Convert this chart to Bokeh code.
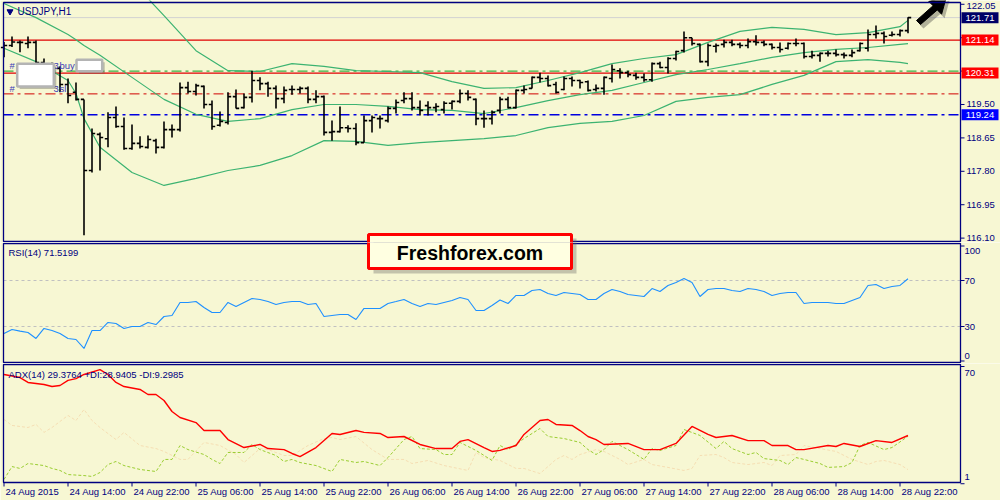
from bokeh.plotting import figure
from bokeh.layouts import column
from bokeh.models import Range1d, Label, BoxAnnotation, ColumnDataSource
from bokeh.embed import file_html
from bokeh.resources import INLINE

# ---------------- data ----------------
time_labels = ["24 Aug 2015", "24 Aug 14:00", "24 Aug 22:00", "25 Aug 06:00", "25 Aug 14:00",
               "25 Aug 22:00", "26 Aug 06:00", "26 Aug 14:00", "26 Aug 22:00", "27 Aug 06:00",
               "27 Aug 14:00", "27 Aug 22:00", "28 Aug 06:00", "28 Aug 14:00", "28 Aug 22:00"]
label_step = 8

opens = [120.95, 121.00, 121.08, 121.05, 121.08, 120.57, 120.47, 120.42, 120.01, 119.81,
         119.63, 117.82, 118.74, 118.63, 119.17, 118.94, 118.38, 118.51, 118.41, 118.58,
         118.41, 118.86, 118.86, 119.93, 119.83, 119.96, 119.50, 118.97, 119.04, 119.70,
         119.42, 119.68, 120.11, 120.03, 119.91, 119.65, 119.88, 119.88, 119.91, 119.63,
         119.70, 118.79, 118.81, 118.91, 118.89, 118.53, 119.09, 119.14, 119.09, 119.40,
         119.60, 119.65, 119.42, 119.47, 119.42, 119.37, 119.53, 119.58, 119.78, 119.63,
         119.14, 119.14, 119.35, 119.63, 119.42, 119.86, 119.91, 120.19, 120.16, 120.01,
         119.88, 120.16, 120.11, 120.08, 119.88, 119.91, 120.16, 120.36, 120.31, 120.24,
         120.19, 120.13, 120.54, 120.44, 120.67, 120.87, 121.20, 121.03, 120.59, 120.98,
         121.03, 121.08, 121.03, 121.00, 121.10, 121.08, 121.03, 120.95, 120.93, 121.05,
         121.05, 120.72, 120.75, 120.80, 120.80, 120.77, 120.75, 120.87, 120.93, 121.28,
         121.31, 121.26, 121.28, 121.38]
highs = [121.09, 121.23, 121.13, 121.23, 121.13, 120.67, 120.57, 120.47, 120.16, 120.06,
         119.63, 118.89, 118.79, 119.30, 119.45, 119.17, 118.99, 118.69, 118.71, 118.63,
         119.07, 118.99, 120.06, 120.08, 120.03, 119.98, 119.60, 119.32, 119.81, 119.88,
         119.78, 120.36, 120.19, 120.08, 119.98, 119.96, 119.98, 119.96, 119.96, 119.86,
         119.73, 119.09, 119.45, 118.97, 119.02, 119.22, 119.22, 119.22, 119.45, 119.63,
         119.81, 119.81, 119.60, 119.58, 119.53, 119.58, 119.60, 119.88, 119.86, 119.65,
         119.35, 119.35, 119.70, 119.70, 119.88, 119.98, 120.21, 120.31, 120.24, 120.08,
         120.21, 120.21, 120.13, 120.11, 120.01, 120.21, 120.52, 120.42, 120.36, 120.31,
         120.29, 120.57, 120.59, 120.70, 120.87, 121.36, 121.20, 121.05, 121.05, 121.05,
         121.15, 121.15, 121.08, 121.18, 121.26, 121.13, 121.05, 121.08, 121.08, 121.18,
         121.08, 120.87, 120.82, 120.87, 120.90, 120.82, 120.90, 121.08, 121.41, 121.51,
         121.36, 121.36, 121.41, 121.72]
lows = [120.70, 120.96, 120.83, 120.93, 120.49, 120.31, 120.11, 119.81, 119.53, 119.60,
        116.17, 117.77, 117.82, 118.41, 118.91, 118.35, 118.35, 118.38, 118.38, 118.25,
        118.38, 118.66, 118.81, 119.78, 119.73, 119.40, 118.86, 118.94, 118.99, 119.40,
        119.40, 119.55, 119.86, 119.70, 119.40, 119.53, 119.75, 119.78, 119.53, 119.53,
        118.71, 118.58, 118.79, 118.79, 118.46, 118.53, 118.79, 118.89, 119.04, 119.27,
        119.53, 119.35, 119.22, 119.22, 119.30, 119.27, 119.37, 119.53, 119.60, 118.97,
        118.91, 118.99, 119.27, 119.40, 119.40, 119.78, 119.91, 120.06, 119.96, 119.78,
        119.86, 119.96, 119.91, 119.83, 119.83, 119.75, 120.06, 120.16, 120.19, 120.13,
        120.08, 120.08, 120.42, 120.29, 120.62, 120.82, 121.00, 120.57, 120.47, 120.82,
        120.95, 120.98, 120.93, 120.93, 121.00, 120.98, 120.90, 120.82, 120.90, 120.98,
        120.67, 120.67, 120.59, 120.72, 120.72, 120.67, 120.70, 120.85, 120.85, 121.18,
        121.05, 121.23, 121.23, 121.31]
closes = [121.00, 121.09, 121.08, 121.08, 120.57, 120.47, 120.42, 120.01, 119.73, 119.63,
          117.82, 118.76, 118.66, 119.17, 118.94, 118.38, 118.51, 118.43, 118.61, 118.41,
          118.86, 118.86, 119.93, 119.83, 119.98, 119.50, 118.94, 119.07, 119.70, 119.40,
          119.68, 120.11, 120.03, 119.91, 119.65, 119.86, 119.88, 119.91, 119.63, 119.70,
          118.79, 118.81, 118.91, 118.89, 118.53, 119.09, 119.17, 119.14, 119.40, 119.55,
          119.65, 119.42, 119.35, 119.42, 119.45, 119.53, 119.58, 119.78, 119.68, 119.14,
          119.14, 119.30, 119.63, 119.42, 119.86, 119.88, 120.19, 120.16, 119.98, 119.81,
          120.16, 120.11, 120.06, 119.86, 119.91, 120.19, 120.39, 120.31, 120.26, 120.19,
          120.13, 120.54, 120.44, 120.67, 120.85, 121.20, 121.05, 120.59, 121.00, 121.00,
          121.08, 121.03, 121.00, 121.10, 121.08, 121.03, 120.95, 120.90, 121.05, 121.05,
          120.72, 120.75, 120.80, 120.80, 120.77, 120.75, 120.82, 121.05, 121.28, 121.31,
          121.23, 121.28, 121.38, 121.71]

bb_idx = [0, 4, 8, 9, 10, 12, 16, 20, 24, 28, 32, 36, 40, 44, 48, 52, 56, 60, 64, 68,
          72, 76, 80, 84, 88, 92, 96, 100, 104, 108, 112, 113]
bb_upper = [123.22, 122.83, 122.45, 122.45, 122.86, 123.04, 122.63, 121.76, 120.87, 120.36,
            120.34, 120.54, 120.47, 120.36, 120.34, 120.31, 120.08, 119.91, 119.93, 120.11,
            120.31, 120.54, 120.67, 120.77, 121.08, 121.36, 121.46, 121.41, 121.28, 121.33,
            121.48, 121.64]
bb_mid = [122.07, 121.71, 121.28, 121.15, 121.00, 120.75, 120.19, 119.63, 119.25, 119.07,
          119.14, 119.37, 119.50, 119.50, 119.45, 119.37, 119.35, 119.27, 119.42, 119.60,
          119.75, 119.86, 120.06, 120.26, 120.39, 120.54, 120.70, 120.82, 120.90, 120.95,
          121.03, 121.05]
bb_lower = [120.93, 120.59, 120.11, 119.78, 119.14, 118.41, 117.77, 117.44, 117.62, 117.82,
            117.95, 118.20, 118.58, 118.56, 118.46, 118.53, 118.58, 118.63, 118.71, 118.91,
            119.02, 119.07, 119.22, 119.58, 119.68, 119.75, 120.01, 120.24, 120.59, 120.64,
            120.57, 120.54]

rsi = [23.9, 27.4, 26.0, 24.8, 19.6, 28.3, 26.5, 23.9, 19.6, 18.7,
       10.9, 26.5, 26.5, 33.5, 32.6, 28.3, 30.0, 30.0, 33.5, 31.7,
       38.7, 39.6, 50.9, 50.9, 51.7, 46.5, 42.2, 42.2, 50.9, 47.4,
       50.9, 54.3, 53.5, 51.7, 49.1, 50.9, 51.7, 51.7, 49.1, 50.0,
       38.7, 39.6, 40.4, 40.4, 36.1, 45.7, 45.7, 45.7, 50.0, 51.7,
       53.5, 50.0, 47.4, 50.0, 49.1, 50.9, 52.6, 55.2, 53.5, 43.9,
       43.9, 48.3, 53.0, 50.0, 57.0, 57.0, 61.3, 62.2, 58.7, 57.0,
       59.6, 58.7, 57.8, 53.5, 53.5, 58.7, 62.2, 60.4, 57.8, 57.0,
       56.1, 63.0, 60.4, 65.7, 68.3, 71.7, 68.3, 56.1, 62.2, 63.0,
       63.0, 61.3, 60.4, 63.0, 62.2, 60.4, 57.0, 58.7, 59.6, 59.6,
       50.0, 50.9, 50.9, 50.9, 50.0, 50.0, 52.6, 55.2, 65.7, 66.5,
       63.0, 64.8, 65.7, 71.52]
rsi_levels = [30, 70]
rsi_ticks = [0, 30, 70, 100]

adx_idx = [0, 2, 3, 5, 6, 7, 8, 9, 10, 12, 13, 14, 15, 17, 18, 19, 20, 21, 22, 24,
           25, 27, 28, 30, 32, 33, 35, 36, 37, 39, 41, 42, 44, 45, 47, 48, 50, 52, 54, 56,
           57, 58, 60, 61, 62, 64, 65, 67, 68, 69, 71, 72, 73, 74, 75, 78, 80, 82, 84, 86,
           88, 89, 91, 93, 95, 96, 98, 99, 100, 103, 104, 105, 107, 109, 111, 113]
adx = [65.3, 63.5, 60.6, 59.4, 58.2, 58.8, 61.8, 62.9, 65.3, 68.2,
       65.3, 60.6, 58.2, 56.5, 53.5, 53.5, 50.0, 43.5, 40.0, 37.0,
       32.3, 32.3, 27.0, 22.3, 24.1, 21.7, 21.1, 18.8, 17.0, 22.3,
       30.6, 30.0, 32.3, 31.2, 30.6, 28.2, 28.8, 24.1, 21.7, 21.7,
       25.9, 27.0, 22.3, 20.0, 20.6, 23.5, 30.0, 38.2, 38.8, 35.9,
       35.3, 32.3, 28.8, 27.0, 24.1, 24.7, 21.1, 21.1, 24.7, 34.7,
       30.0, 28.2, 29.4, 26.4, 26.4, 23.5, 23.5, 21.1, 21.1, 23.5,
       22.9, 24.7, 22.9, 26.4, 25.3, 29.38]

pdi_idx = [0, 1, 2, 3, 5, 6, 7, 8, 10, 11, 12, 13, 14, 15, 17, 19, 20, 21, 22, 23,
           25, 26, 27, 28, 30, 31, 32, 34, 35, 36, 37, 39, 41, 42, 44, 45, 47, 48, 50, 51,
           52, 54, 55, 56, 57, 59, 61, 62, 63, 64, 65, 67, 68, 70, 72, 73, 74, 75, 76, 78,
           80, 81, 82, 84, 85, 87, 89, 90, 91, 93, 94, 95, 97, 98, 99, 100, 102, 103, 105, 106,
           107, 108, 110, 111, 113]
pdi = [3.5, 11.1, 10.0, 12.9, 11.7, 10.0, 8.8, 6.4, 5.8, 5.3,
       7.6, 12.3, 14.1, 11.7, 9.4, 8.2, 15.3, 15.3, 23.5, 21.1,
       18.2, 15.3, 12.9, 19.4, 19.4, 24.1, 21.1, 17.6, 14.1, 15.3,
       13.5, 11.7, 8.2, 15.3, 13.5, 14.1, 11.7, 16.4, 27.0, 28.8,
       21.7, 21.1, 18.2, 18.2, 25.3, 20.6, 14.7, 23.5, 21.1, 24.1,
       27.6, 33.5, 28.8, 27.6, 25.3, 21.1, 18.2, 21.1, 25.9, 21.1,
       15.3, 21.7, 20.6, 23.5, 32.9, 29.4, 21.7, 25.9, 21.7, 18.2,
       19.4, 15.8, 14.7, 12.3, 16.4, 15.3, 12.9, 10.6, 11.1, 13.5,
       23.5, 25.3, 21.1, 22.3, 28.94]

mdi_idx = [0, 1, 3, 4, 5, 6, 8, 9, 10, 11, 12, 14, 15, 17, 19, 20, 22, 23, 25, 27,
           29, 30, 32, 33, 35, 36, 38, 40, 41, 42, 44, 46, 48, 50, 51, 53, 55, 58, 59, 60,
           62, 64, 65, 67, 69, 70, 71, 72, 74, 75, 77, 78, 80, 81, 83, 85, 86, 87, 89, 90,
           91, 93, 95, 96, 97, 99, 100, 102, 104, 106, 108, 109, 110, 112, 113]
mdi = [38.8, 35.3, 34.1, 35.9, 31.2, 34.1, 41.2, 38.2, 44.7, 38.2,
       34.1, 27.0, 31.2, 23.5, 21.7, 20.0, 15.3, 15.3, 25.3, 23.5,
       18.2, 13.5, 21.7, 21.1, 17.6, 17.6, 23.5, 27.6, 28.2, 27.0,
       28.8, 21.1, 15.3, 15.3, 12.9, 14.7, 11.7, 8.8, 19.4, 16.4,
       14.7, 10.0, 10.0, 7.0, 15.3, 17.6, 15.3, 18.2, 21.1, 20.0,
       15.3, 12.3, 15.3, 12.3, 10.6, 8.8, 10.0, 17.6, 18.2, 16.4,
       13.5, 12.3, 13.5, 11.7, 17.6, 18.2, 23.5, 21.7, 20.0, 15.3,
       12.3, 14.1, 14.7, 12.3, 9.30]
adx_ticks = [1, 70]

price_ticks = [116.10, 116.95, 117.80, 118.65, 119.50, 120.35, 121.20, 122.05]
current_price = 121.71
resistance = 121.14
buy_level = 120.35
support = 120.30
support_label = "120.31"
stop_level = 119.77
blue_level = 119.24

# ---------------- styling / geometry ----------------
BG = "#F7F7D3"
NAVY = "#000080"
FONT = "Liberation Sans"
FS = "9.5px"
W = 1000
PRICE_PER_PX = 0.025445

n = len(closes)
idx = list(range(n))


# reference-pixel -> data-unit helpers for the layout of each panel
def px2x(px):
    return (px - 3.5) / 8.0


def py2p(py):
    return 122.146 - PRICE_PER_PX * py


def py2r(py):
    return 70 - (py - 280) / 1.15


def py2a(py):
    return 70 - (py - 366) / 1.699


LEFT, AXIS = px2x(3), px2x(960)
TICK_END = px2x(964)
xr = Range1d(px2x(0), px2x(W))


def make_fig(h, top_val, bot_val):
    p = figure(width=W, height=h, x_range=xr, y_range=Range1d(bot_val, top_val),
               output_backend="svg", toolbar_location=None,
               x_axis_location=None, y_axis_location=None, min_border=0,
               background_fill_color=BG, border_fill_color=BG, outline_line_color=None)
    p.grid.visible = False
    return p


def panel(p, top_val, bot_val):
    p.add_layout(BoxAnnotation(left=LEFT, right=AXIS, top=top_val, bottom=bot_val,
                               fill_color=None, line_color=NAVY, line_alpha=1, line_width=1.3))


def lab(p, x, y, text, color=NAVY, size=FS, align="left", **kw):
    p.add_layout(Label(x=x, y=y, text=text, text_color=color, text_font=FONT,
                       text_font_size=size, text_baseline="middle", text_align=align, **kw))


def right_ticks(p, vals):
    k = len(vals)
    p.segment(x0=[AXIS] * k, y0=vals, x1=[TICK_END] * k, y1=vals, line_color=NAVY, line_width=1)


def hline(p, y, color, width=1.0, dash="solid"):
    p.segment(x0=[LEFT], y0=[y], x1=[AXIS], y1=[y], line_color=color, line_width=width,
              line_dash=dash)


DASHDOT = "10 4 3 4"

# ================= main price panel (page y 0..242) =================
p1 = make_fig(242, py2p(0), py2p(242))
panel(p1, py2p(2), py2p(241))

hline(p1, current_price, "#D2D2D2", 1)
hline(p1, resistance, "#E00000", 1.2)
hline(p1, buy_level, "#3CB043", 1.2, DASHDOT)
hline(p1, support, "#E00000", 1.2)
hline(p1, stop_level, "#D00000", 1.0, DASHDOT)
hline(p1, blue_level, "#0000E0", 1.6, DASHDOT)

BBC = "#3CB371"
p1.line(bb_idx, bb_upper, line_color=BBC, line_width=1.2)
p1.line(bb_idx, bb_mid, line_color=BBC, line_width=1.2)
p1.line(bb_idx, bb_lower, line_color=BBC, line_width=1.2)

src = ColumnDataSource(dict(x=idx, o=opens, h=highs, l=lows, c=closes,
                            xl=[i - 0.4 for i in idx], xr=[i + 0.4 for i in idx]))
p1.segment(x0="x", y0="l", x1="x", y1="h", source=src, line_color="black", line_width=1.6)
p1.segment(x0="xl", y0="o", x1="x", y1="o", source=src, line_color="black", line_width=1.6)
p1.segment(x0="x", y0="c", x1="xr", y1="c", source=src, line_color="black", line_width=1.6)

right_ticks(p1, price_ticks)
top_label_y = py2p(5.3)
for t in price_ticks:
    lab(p1, px2x(966), min(t, top_label_y), f"{t:.2f}")

# header
p1.scatter(x=[px2x(9.5)], y=[py2p(11)], marker="inverted_triangle", size=6,
           fill_color=NAVY, line_color=NAVY)
lab(p1, px2x(17), py2p(11), "USDJPY,H1", size="10px")

# order labels with white masks
OC = "#3A3AB8"
lab(p1, px2x(9), py2p(65), "#", color=OC)
lab(p1, px2x(53), py2p(65), "3", color=OC)
lab(p1, px2x(59), py2p(65), "buy", color=OC)
lab(p1, px2x(9), py2p(88), "#", color=OC)
lab(p1, px2x(53), py2p(88), "3", color=OC)
lab(p1, px2x(59), py2p(88), "sl", color=OC)
for (l, r, t, b) in [(16.7, 53.3, 63.3, 86.0), (76.0, 101.7, 59.3, 70.7)]:
    p1.add_layout(BoxAnnotation(left=px2x(l + 2.5), right=px2x(r + 2.5), top=py2p(t + 2.5),
                                bottom=py2p(b + 2.5), fill_color="#505050", fill_alpha=0.35,
                                line_color=None))
    p1.add_layout(BoxAnnotation(left=px2x(l), right=px2x(r), top=py2p(t), bottom=py2p(b),
                                fill_color="white", fill_alpha=1, line_color="#B4B4B4",
                                line_alpha=1, line_width=2.5))

# cursor arrow (decoration)
arrow_px = [(946, -4), (928.3, 0.9), (932.6, 5.2), (916, 20), (920, 24), (936.8, 9.4), (941.1, 13.7)]
p1.patch([px2x(a + 3) for a, b in arrow_px], [py2p(b + 4) for a, b in arrow_px],
         fill_color="#303030", fill_alpha=0.35, line_color=None)
p1.patch([px2x(a) for a, b in arrow_px], [py2p(b) for a, b in arrow_px],
         fill_color="black", line_color="black", line_width=1)

# price tags on the right axis (drawn over the tick labels)
TAG_HALF = 5.5 * PRICE_PER_PX
for val, t, bg in [(current_price, "121.71", "#000066"), (resistance, "121.14", "#FF0000"),
                   (support, support_label, "#FF0000"), (blue_level, "119.24", "#0000FF")]:
    p1.add_layout(BoxAnnotation(left=px2x(961), right=px2x(998), top=val + TAG_HALF,
                                bottom=val - TAG_HALF, fill_color=bg, fill_alpha=1,
                                line_color=None))
    lab(p1, px2x(979.5), val, t, color="white", align="center")

# Freshforex box (upper part)
p1.add_layout(BoxAnnotation(left=px2x(373), right=px2x(576), top=py2p(238), bottom=py2p(262),
                            fill_color="#606060", fill_alpha=0.35, line_color=None))
p1.add_layout(BoxAnnotation(left=px2x(368), right=px2x(571), top=py2p(234), bottom=py2p(262),
                            fill_color="#FFFFE1", fill_alpha=1, line_color="#FF0000",
                            line_alpha=1, line_width=3))

# ================= RSI panel (page y 242..363) =================
p2 = make_fig(121, py2r(242), py2r(363))
panel(p2, py2r(243), py2r(362))
for lv in rsi_levels:
    hline(p2, lv, "#C0C0C0", 1, "3 3")
p2.line(idx, rsi, line_color="#1E90FF", line_width=1.1)
right_ticks(p2, rsi_ticks)
for t in rsi_ticks:
    ty = min(max(t, py2r(355)), py2r(250))
    lab(p2, px2x(964), ty, str(t))
lab(p2, px2x(8), py2r(252), "RSI(14) 71.5199")

p2.add_layout(BoxAnnotation(left=px2x(373), right=px2x(576), top=py2r(225), bottom=py2r(273),
                            fill_color="#606060", fill_alpha=0.35, line_color=None))
p2.add_layout(BoxAnnotation(left=px2x(368), right=px2x(571), top=py2r(225), bottom=py2r(268),
                            fill_color="#FFFFE1", fill_alpha=1, line_color="#FF0000",
                            line_alpha=1, line_width=3))
lab(p2, px2x(469.5), py2r(252), "Freshforex.com", color="black", size="19.5px",
    align="center", text_font_style="bold")

# ================= ADX panel + time axis (page y 363..500) =================
p3 = make_fig(137, py2a(363), py2a(500))
panel(p3, py2a(364), py2a(482))
p3.line(mdi_idx, mdi, line_color="#F5DEB3", line_width=1, line_dash="3 2")
p3.line(pdi_idx, pdi, line_color="#9ACD32", line_width=1, line_dash="3 2")
p3.line(adx_idx, adx, line_color="#FF0000", line_width=1.4)
right_ticks(p3, adx_ticks)
for t in adx_ticks:
    ty = min(max(t, py2a(476)), py2a(372))
    lab(p3, px2x(964), ty, str(t))
lab(p3, px2x(8), py2a(374), "ADX(14) 29.3764 +DI:28.9405 -DI:9.2985")

xt = [i * label_step for i in range(len(time_labels))]
p3.segment(x0=xt, y0=[py2a(482)] * len(xt), x1=xt, y1=[py2a(486)] * len(xt),
           line_color=NAVY, line_width=1)
for x, t in zip(xt, time_labels):
    lab(p3, x, py2a(491), t, x_offset=1.5)

layout = column(p1, p2, p3, spacing=0)
open("out.html", "w").write(file_html(layout, INLINE, title="USDJPY,H1"))
